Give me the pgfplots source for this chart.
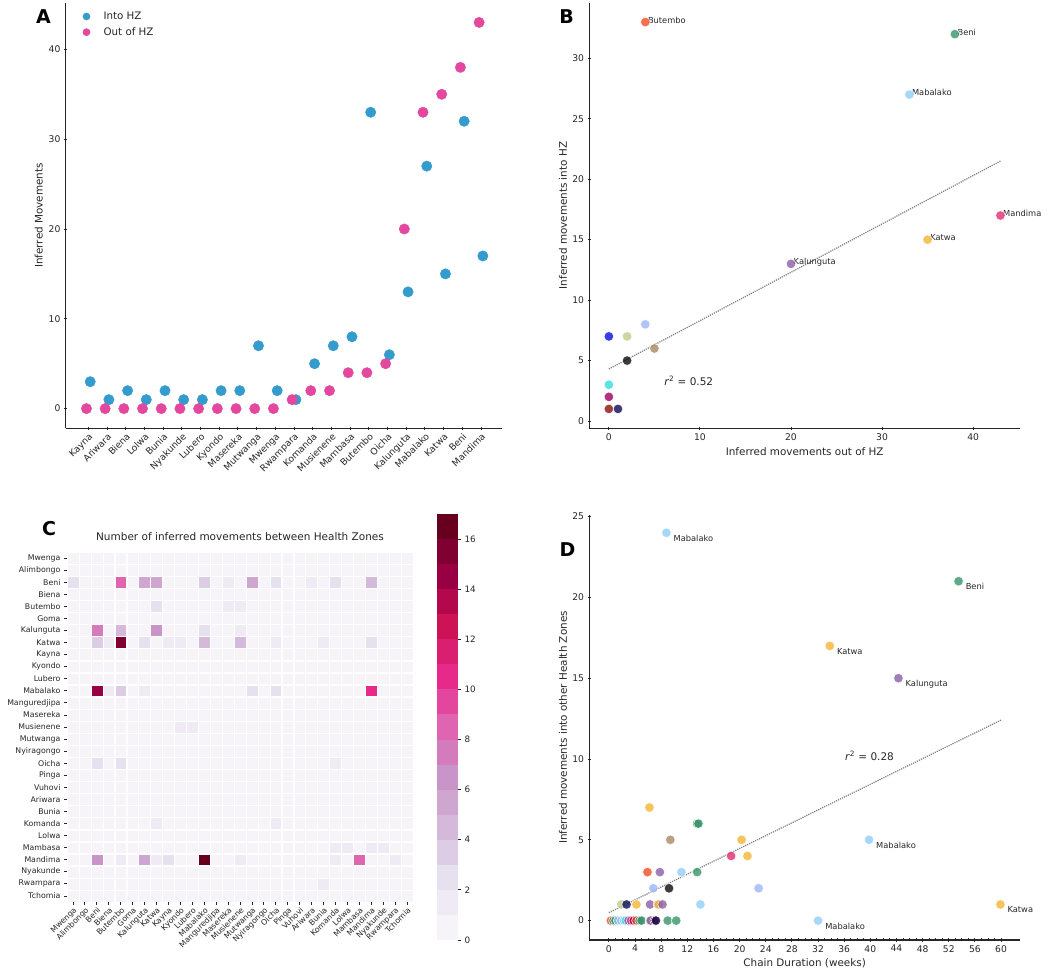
\documentclass[border=0pt]{standalone}
\usepackage{pgfplots}
\pgfplotsset{compat=1.18}
\usepackage{fontspec}
\setmainfont{DejaVu Sans}
\definecolor{axc}{RGB}{38,38,38}
\definecolor{cinto}{RGB}{52,155,205}
\definecolor{cout}{RGB}{228,72,158}
% PuRd, 17 levels
\definecolor{c0}{HTML}{F7F4F9}
\definecolor{c1}{HTML}{EFEAF4}
\definecolor{c2}{HTML}{E7E1EF}
\definecolor{c3}{HTML}{DDCDE4}
\definecolor{c4}{HTML}{D4B9DA}
\definecolor{c5}{HTML}{CEA6D0}
\definecolor{c6}{HTML}{C994C7}
\definecolor{c7}{HTML}{D47CBB}
\definecolor{c8}{HTML}{DF65B0}
\definecolor{c9}{HTML}{E3479D}
\definecolor{c10}{HTML}{E7298A}
\definecolor{c11}{HTML}{DA1E70}
\definecolor{c12}{HTML}{CE1256}
\definecolor{c13}{HTML}{B3094C}
\definecolor{c14}{HTML}{980043}
\definecolor{c15}{HTML}{800031}
\definecolor{c16}{HTML}{67001F}
% health zone colours
\definecolor{hbut}{RGB}{241,76,35}
\definecolor{hbeni}{RGB}{55,146,106}
\definecolor{hmab}{RGB}{146,206,246}
\definecolor{hmand}{RGB}{226,43,115}
\definecolor{hkat}{RGB}{245,180,51}
\definecolor{hkal}{RGB}{136,95,166}
\definecolor{hmut}{RGB}{11,11,224}
\definecolor{hmus}{RGB}{186,206,136}
\definecolor{hmamb}{RGB}{156,181,249}
\definecolor{hoic}{RGB}{166,136,96}
\definecolor{hkom}{RGB}{11,11,11}
\definecolor{hkay}{RGB}{56,216,226}
\definecolor{hmag}{RGB}{156,0,96}
\definecolor{hbrn}{RGB}{136,16,9}
\definecolor{hnav}{RGB}{14,9,86}
\tikzset{hzp/.style={draw=white, line width=0.6pt, fill=#1, fill opacity=0.8, draw opacity=0.9}}
\begin{document}
\begin{tikzpicture}
\pgfplotsset{
  every axis/.append style={
    scale only axis, anchor=south west,
    /pgf/number format/assume math mode=true,
    tick label style={font=\fontsize{9.2}{11}\selectfont, text=axc},
    label style={font=\fontsize{10.4}{12.5}\selectfont, text=axc},
    tick style={axc, line width=0.9pt},
    tick align=outside,
    major tick length=3.5pt,
    minor tick length=3pt,
  },
  hz/.style={scatter, only marks, mark=*, mark size=4.8pt, point meta=explicit symbolic,
    scatter/classes={
      but={hzp=hbut}, beni={hzp=hbeni}, mab={hzp=hmab}, mand={hzp=hmand},
      kat={hzp=hkat}, kal={hzp=hkal}, mut={hzp=hmut}, mus={hzp=hmus},
      mamb={hzp=hmamb}, oic={hzp=hoic}, kom={hzp=hkom}, kay={hzp=hkay},
      mag={hzp=hmag}, brn={hzp=hbrn}, nav={hzp=hnav}}},
  legdot/.style={legend image code/.code={\draw[mark size=3.6pt, ##1] plot coordinates {(0.25cm,0cm)}; \path[draw=none, fill=none] (0cm,0cm) (0.78cm,0cm);}},
}
% ---------------- Panel A ----------------
\begin{axis}[at={(65.7pt,540.7pt)}, width=436.6pt, height=425.6pt,
  axis lines=left, axis line style={-, axc, line width=1.1pt},
  xmin=-1.21, xmax=22.14, ymin=-2.19, ymax=45.2,
  xtick={0,...,21},
  xticklabels={Kayna,Ariwara,Biena,Lolwa,Bunia,Nyakunde,Lubero,Kyondo,Masereka,Mutwanga,Mwenga,Rwampara,Komanda,Musienene,Mambasa,Butembo,Oicha,Kalunguta,Mabalako,Katwa,Beni,Mandima},
  xticklabel style={rotate=45, anchor=north east, inner sep=1.5pt},
  ytick={0,10,20,30,40},
  ylabel={Inferred Movements},
  ylabel style={at={(axis description cs:-0.062,0.5)}, anchor=center},
  legend style={at={(axis description cs:0.024,0.988)}, anchor=north west, draw=none, fill=none,
     font=\fontsize{10.3}{12}\selectfont, text=axc, row sep=2.5pt},
  legend cell align=left,
]
\addplot[only marks, mark=*, mark size=5.2pt, mark options={fill=cinto, draw=cinto}, legdot] coordinates {
(0.1,3) (1.1,1) (2.1,2) (3.1,1) (4.1,2) (5.1,1) (6.1,1) (7.1,2) (8.1,2) (9.1,7) (10.1,2)
(11.1,1) (12.1,5) (13.1,7) (14.1,8) (15.1,33) (16.1,6) (17.1,13) (18.1,27) (19.1,15) (20.1,32) (21.1,17)};
\addlegendentry{Into HZ}
\addplot[only marks, mark=*, mark size=5.2pt, mark options={fill=cout, draw=cout}, legdot] coordinates {
(-0.1,0) (0.9,0) (1.9,0) (2.9,0) (3.9,0) (4.9,0) (5.9,0) (6.9,0) (7.9,0) (8.9,0) (9.9,0)
(10.9,1) (11.9,2) (12.9,2) (13.9,4) (14.9,4) (15.9,5) (16.9,20) (17.9,33) (18.9,35) (19.9,38) (20.9,43)};
\addlegendentry{Out of HZ}
\end{axis}
% ---------------- Panel B ----------------
\begin{axis}[at={(589.3pt,540.7pt)}, width=430.7pt, height=425.6pt, clip=false,
  axis lines=left, axis line style={-, axc, line width=1.1pt},
  xmin=-2.15, xmax=45.15, ymin=-0.6, ymax=34.6,
  xtick={0,10,20,30,40}, ytick={0,5,10,15,20,25,30},
  xlabel={Inferred movements out of HZ},
  ylabel={Inferred movements into HZ},
  xlabel style={at={(axis description cs:0.5,-0.054)}, anchor=center},
  ylabel style={at={(axis description cs:-0.061,0.5)}, anchor=center},
]
\addplot[densely dotted, gray, line width=1.2pt] coordinates {(0,4.3) (43,21.5)};
\addplot[hz] coordinates {
(0,7)[mut] (2,7)[mus] (4,8)[mamb] (5,6)[oic] (2,5)[kom] (0,3)[kay] (0,2)[mag] (0,1)[brn] (1,1)[nav]
(4,33)[but] (38,32)[beni] (33,27)[mab] (43,17)[mand] (35,15)[kat] (20,13)[kal]};
\begin{scope}[every node/.style={anchor=base west, xshift=2.5pt, yshift=-1pt, font=\fontsize{8.3}{10}\selectfont, text=axc, inner sep=0pt}]
\node at (axis cs:4,33) {Butembo};
\node at (axis cs:38,32) {Beni};
\node at (axis cs:33,27) {Mabalako};
\node at (axis cs:43,17) {Mandima};
\node at (axis cs:35,15) {Katwa};
\node at (axis cs:20,13) {Kalunguta};
\end{scope}
\node[anchor=west, inner sep=0pt, font=\fontsize{10.5}{12}\selectfont, text=axc] at (axis cs:6.06,3.33) {\textit{r}\textsuperscript{2} = 0.52};
\end{axis}
% ---------------- Panel C : heatmap ----------------
\begin{axis}[at={(67pt,67pt)}, width=346pt, height=350pt,
  xmin=-0.5, xmax=28.5, ymin=-0.5, ymax=28.5,
  axis line style={draw=none},
  tick pos=left,
  xtick={0,...,28}, ytick={0,...,28},
  xticklabels={Mwenga,Alimbongo,Beni,Biena,Butembo,Goma,Kalunguta,Katwa,Kayna,Kyondo,Lubero,Mabalako,Manguredjipa,Masereka,Musienene,Mutwanga,Nyiragongo,Oicha,Pinga,Vuhovi,Ariwara,Bunia,Komanda,Lolwa,Mambasa,Mandima,Nyakunde,Rwampara,Tchomia},
  yticklabels={Tchomia,Rwampara,Nyakunde,Mandima,Mambasa,Lolwa,Komanda,Bunia,Ariwara,Vuhovi,Pinga,Oicha,Nyiragongo,Mutwanga,Musienene,Masereka,Manguredjipa,Mabalako,Lubero,Kyondo,Kayna,Katwa,Kalunguta,Goma,Butembo,Biena,Beni,Alimbongo,Mwenga},
  tick label style={font=\fontsize{7.8}{9}\selectfont, text=axc},
  xticklabel style={rotate=45, anchor=north east, inner sep=1pt},
  major tick length=3pt,
  tick style={axc, line width=0.8pt},
  title={Number of inferred movements between Health Zones},
  title style={at={(axis description cs:0.5,1)}, anchor=center, yshift=9pt, font=\fontsize{10.5}{12}\selectfont, text=axc},
]
% zero cells (every row to every column)
\addplot[only marks, mark=square*, mark size=4.9pt, color=c0] coordinates {
(0,28)(1,28)(2,28)(3,28)(4,28)(5,28)(6,28)(7,28)(8,28)(9,28)(10,28)(11,28)(12,28)(13,28)(14,28)(15,28)(16,28)(17,28)(18,28)(19,28)(20,28)(21,28)(22,28)(23,28)(24,28)(25,28)(26,28)(27,28)(28,28)
(0,27)(1,27)(2,27)(3,27)(4,27)(5,27)(6,27)(7,27)(8,27)(9,27)(10,27)(11,27)(12,27)(13,27)(14,27)(15,27)(16,27)(17,27)(18,27)(19,27)(20,27)(21,27)(22,27)(23,27)(24,27)(25,27)(26,27)(27,27)(28,27)
(0,26)(1,26)(2,26)(3,26)(4,26)(5,26)(6,26)(7,26)(8,26)(9,26)(10,26)(11,26)(12,26)(13,26)(14,26)(15,26)(16,26)(17,26)(18,26)(19,26)(20,26)(21,26)(22,26)(23,26)(24,26)(25,26)(26,26)(27,26)(28,26)
(0,25)(1,25)(2,25)(3,25)(4,25)(5,25)(6,25)(7,25)(8,25)(9,25)(10,25)(11,25)(12,25)(13,25)(14,25)(15,25)(16,25)(17,25)(18,25)(19,25)(20,25)(21,25)(22,25)(23,25)(24,25)(25,25)(26,25)(27,25)(28,25)
(0,24)(1,24)(2,24)(3,24)(4,24)(5,24)(6,24)(7,24)(8,24)(9,24)(10,24)(11,24)(12,24)(13,24)(14,24)(15,24)(16,24)(17,24)(18,24)(19,24)(20,24)(21,24)(22,24)(23,24)(24,24)(25,24)(26,24)(27,24)(28,24)
(0,23)(1,23)(2,23)(3,23)(4,23)(5,23)(6,23)(7,23)(8,23)(9,23)(10,23)(11,23)(12,23)(13,23)(14,23)(15,23)(16,23)(17,23)(18,23)(19,23)(20,23)(21,23)(22,23)(23,23)(24,23)(25,23)(26,23)(27,23)(28,23)
(0,22)(1,22)(2,22)(3,22)(4,22)(5,22)(6,22)(7,22)(8,22)(9,22)(10,22)(11,22)(12,22)(13,22)(14,22)(15,22)(16,22)(17,22)(18,22)(19,22)(20,22)(21,22)(22,22)(23,22)(24,22)(25,22)(26,22)(27,22)(28,22)
(0,21)(1,21)(2,21)(3,21)(4,21)(5,21)(6,21)(7,21)(8,21)(9,21)(10,21)(11,21)(12,21)(13,21)(14,21)(15,21)(16,21)(17,21)(18,21)(19,21)(20,21)(21,21)(22,21)(23,21)(24,21)(25,21)(26,21)(27,21)(28,21)
(0,20)(1,20)(2,20)(3,20)(4,20)(5,20)(6,20)(7,20)(8,20)(9,20)(10,20)(11,20)(12,20)(13,20)(14,20)(15,20)(16,20)(17,20)(18,20)(19,20)(20,20)(21,20)(22,20)(23,20)(24,20)(25,20)(26,20)(27,20)(28,20)
(0,19)(1,19)(2,19)(3,19)(4,19)(5,19)(6,19)(7,19)(8,19)(9,19)(10,19)(11,19)(12,19)(13,19)(14,19)(15,19)(16,19)(17,19)(18,19)(19,19)(20,19)(21,19)(22,19)(23,19)(24,19)(25,19)(26,19)(27,19)(28,19)
(0,18)(1,18)(2,18)(3,18)(4,18)(5,18)(6,18)(7,18)(8,18)(9,18)(10,18)(11,18)(12,18)(13,18)(14,18)(15,18)(16,18)(17,18)(18,18)(19,18)(20,18)(21,18)(22,18)(23,18)(24,18)(25,18)(26,18)(27,18)(28,18)
(0,17)(1,17)(2,17)(3,17)(4,17)(5,17)(6,17)(7,17)(8,17)(9,17)(10,17)(11,17)(12,17)(13,17)(14,17)(15,17)(16,17)(17,17)(18,17)(19,17)(20,17)(21,17)(22,17)(23,17)(24,17)(25,17)(26,17)(27,17)(28,17)
(0,16)(1,16)(2,16)(3,16)(4,16)(5,16)(6,16)(7,16)(8,16)(9,16)(10,16)(11,16)(12,16)(13,16)(14,16)(15,16)(16,16)(17,16)(18,16)(19,16)(20,16)(21,16)(22,16)(23,16)(24,16)(25,16)(26,16)(27,16)(28,16)
(0,15)(1,15)(2,15)(3,15)(4,15)(5,15)(6,15)(7,15)(8,15)(9,15)(10,15)(11,15)(12,15)(13,15)(14,15)(15,15)(16,15)(17,15)(18,15)(19,15)(20,15)(21,15)(22,15)(23,15)(24,15)(25,15)(26,15)(27,15)(28,15)
(0,14)(1,14)(2,14)(3,14)(4,14)(5,14)(6,14)(7,14)(8,14)(9,14)(10,14)(11,14)(12,14)(13,14)(14,14)(15,14)(16,14)(17,14)(18,14)(19,14)(20,14)(21,14)(22,14)(23,14)(24,14)(25,14)(26,14)(27,14)(28,14)
(0,13)(1,13)(2,13)(3,13)(4,13)(5,13)(6,13)(7,13)(8,13)(9,13)(10,13)(11,13)(12,13)(13,13)(14,13)(15,13)(16,13)(17,13)(18,13)(19,13)(20,13)(21,13)(22,13)(23,13)(24,13)(25,13)(26,13)(27,13)(28,13)
(0,12)(1,12)(2,12)(3,12)(4,12)(5,12)(6,12)(7,12)(8,12)(9,12)(10,12)(11,12)(12,12)(13,12)(14,12)(15,12)(16,12)(17,12)(18,12)(19,12)(20,12)(21,12)(22,12)(23,12)(24,12)(25,12)(26,12)(27,12)(28,12)
(0,11)(1,11)(2,11)(3,11)(4,11)(5,11)(6,11)(7,11)(8,11)(9,11)(10,11)(11,11)(12,11)(13,11)(14,11)(15,11)(16,11)(17,11)(18,11)(19,11)(20,11)(21,11)(22,11)(23,11)(24,11)(25,11)(26,11)(27,11)(28,11)
(0,10)(1,10)(2,10)(3,10)(4,10)(5,10)(6,10)(7,10)(8,10)(9,10)(10,10)(11,10)(12,10)(13,10)(14,10)(15,10)(16,10)(17,10)(18,10)(19,10)(20,10)(21,10)(22,10)(23,10)(24,10)(25,10)(26,10)(27,10)(28,10)
(0,9)(1,9)(2,9)(3,9)(4,9)(5,9)(6,9)(7,9)(8,9)(9,9)(10,9)(11,9)(12,9)(13,9)(14,9)(15,9)(16,9)(17,9)(18,9)(19,9)(20,9)(21,9)(22,9)(23,9)(24,9)(25,9)(26,9)(27,9)(28,9)
(0,8)(1,8)(2,8)(3,8)(4,8)(5,8)(6,8)(7,8)(8,8)(9,8)(10,8)(11,8)(12,8)(13,8)(14,8)(15,8)(16,8)(17,8)(18,8)(19,8)(20,8)(21,8)(22,8)(23,8)(24,8)(25,8)(26,8)(27,8)(28,8)
(0,7)(1,7)(2,7)(3,7)(4,7)(5,7)(6,7)(7,7)(8,7)(9,7)(10,7)(11,7)(12,7)(13,7)(14,7)(15,7)(16,7)(17,7)(18,7)(19,7)(20,7)(21,7)(22,7)(23,7)(24,7)(25,7)(26,7)(27,7)(28,7)
(0,6)(1,6)(2,6)(3,6)(4,6)(5,6)(6,6)(7,6)(8,6)(9,6)(10,6)(11,6)(12,6)(13,6)(14,6)(15,6)(16,6)(17,6)(18,6)(19,6)(20,6)(21,6)(22,6)(23,6)(24,6)(25,6)(26,6)(27,6)(28,6)
(0,5)(1,5)(2,5)(3,5)(4,5)(5,5)(6,5)(7,5)(8,5)(9,5)(10,5)(11,5)(12,5)(13,5)(14,5)(15,5)(16,5)(17,5)(18,5)(19,5)(20,5)(21,5)(22,5)(23,5)(24,5)(25,5)(26,5)(27,5)(28,5)
(0,4)(1,4)(2,4)(3,4)(4,4)(5,4)(6,4)(7,4)(8,4)(9,4)(10,4)(11,4)(12,4)(13,4)(14,4)(15,4)(16,4)(17,4)(18,4)(19,4)(20,4)(21,4)(22,4)(23,4)(24,4)(25,4)(26,4)(27,4)(28,4)
(0,3)(1,3)(2,3)(3,3)(4,3)(5,3)(6,3)(7,3)(8,3)(9,3)(10,3)(11,3)(12,3)(13,3)(14,3)(15,3)(16,3)(17,3)(18,3)(19,3)(20,3)(21,3)(22,3)(23,3)(24,3)(25,3)(26,3)(27,3)(28,3)
(0,2)(1,2)(2,2)(3,2)(4,2)(5,2)(6,2)(7,2)(8,2)(9,2)(10,2)(11,2)(12,2)(13,2)(14,2)(15,2)(16,2)(17,2)(18,2)(19,2)(20,2)(21,2)(22,2)(23,2)(24,2)(25,2)(26,2)(27,2)(28,2)
(0,1)(1,1)(2,1)(3,1)(4,1)(5,1)(6,1)(7,1)(8,1)(9,1)(10,1)(11,1)(12,1)(13,1)(14,1)(15,1)(16,1)(17,1)(18,1)(19,1)(20,1)(21,1)(22,1)(23,1)(24,1)(25,1)(26,1)(27,1)(28,1)
(0,0)(1,0)(2,0)(3,0)(4,0)(5,0)(6,0)(7,0)(8,0)(9,0)(10,0)(11,0)(12,0)(13,0)(14,0)(15,0)(16,0)(17,0)(18,0)(19,0)(20,0)(21,0)(22,0)(23,0)(24,0)(25,0)(26,0)(27,0)(28,0)
};
% non-zero cells (x = destination column, y = 28 - source row)
\addplot[scatter, only marks, mark=square*, mark size=4.9pt, point meta=explicit symbolic,
  scatter/classes={v1={c1},v2={c2},v3={c3},v4={c4},v5={c5},v6={c6},v7={c7},v8={c8},v9={c9},
    v10={c10},v11={c11},v12={c12},v13={c13},v14={c14},v15={c15},v16={c16},v17={c16}}] coordinates {
(0,26)[v2] (4,26)[v8] (6,26)[v5] (7,26)[v5] (11,26)[v3] (13,26)[v1] (15,26)[v5] (17,26)[v2] (20,26)[v1] (22,26)[v2] (25,26)[v4]
(7,24)[v2] (13,24)[v1] (14,24)[v1]
(2,22)[v7] (4,22)[v4] (7,22)[v6] (11,22)[v2] (14,22)[v1]
(2,21)[v3] (3,21)[v1] (4,21)[v15] (6,21)[v2] (8,21)[v1] (9,21)[v1] (11,21)[v4] (14,21)[v4] (17,21)[v1] (21,21)[v1] (25,21)[v2]
(2,17)[v14] (3,17)[v1] (4,17)[v3] (6,17)[v1] (15,17)[v2] (17,17)[v2] (25,17)[v10]
(9,14)[v1] (10,14)[v1]
(2,11)[v2] (4,11)[v2] (22,11)[v1]
(7,6)[v1] (17,6)[v1]
(22,4)[v1] (23,4)[v1] (25,4)[v1] (26,4)[v1]
(2,3)[v6] (4,3)[v1] (6,3)[v5] (7,3)[v1] (8,3)[v2] (11,3)[v17] (14,3)[v1] (22,3)[v1] (24,3)[v8] (27,3)[v1]
(21,1)[v1]
};
\end{axis}
% ---------------- colour bar ----------------
\begin{axis}[at={(437pt,29pt)}, width=21pt, height=426pt,
  xmin=0, xmax=1, ymin=0, ymax=17,
  axis line style={draw=none},
  xtick=\empty,
  ytick={0,2,4,6,8,10,12,14,16},
  ytick pos=right, yticklabel pos=right,
  tick label style={font=\fontsize{8.8}{10}\selectfont, text=axc},
  major tick length=3pt,
]
\addplot[fill=c0, draw=none] coordinates {(0,0) (1,0) (1,1) (0,1)};
\addplot[fill=c1, draw=none] coordinates {(0,1) (1,1) (1,2) (0,2)};
\addplot[fill=c2, draw=none] coordinates {(0,2) (1,2) (1,3) (0,3)};
\addplot[fill=c3, draw=none] coordinates {(0,3) (1,3) (1,4) (0,4)};
\addplot[fill=c4, draw=none] coordinates {(0,4) (1,4) (1,5) (0,5)};
\addplot[fill=c5, draw=none] coordinates {(0,5) (1,5) (1,6) (0,6)};
\addplot[fill=c6, draw=none] coordinates {(0,6) (1,6) (1,7) (0,7)};
\addplot[fill=c7, draw=none] coordinates {(0,7) (1,7) (1,8) (0,8)};
\addplot[fill=c8, draw=none] coordinates {(0,8) (1,8) (1,9) (0,9)};
\addplot[fill=c9, draw=none] coordinates {(0,9) (1,9) (1,10) (0,10)};
\addplot[fill=c10, draw=none] coordinates {(0,10) (1,10) (1,11) (0,11)};
\addplot[fill=c11, draw=none] coordinates {(0,11) (1,11) (1,12) (0,12)};
\addplot[fill=c12, draw=none] coordinates {(0,12) (1,12) (1,13) (0,13)};
\addplot[fill=c13, draw=none] coordinates {(0,13) (1,13) (1,14) (0,14)};
\addplot[fill=c14, draw=none] coordinates {(0,14) (1,14) (1,15) (0,15)};
\addplot[fill=c15, draw=none] coordinates {(0,15) (1,15) (1,16) (0,16)};
\addplot[fill=c16, draw=none] coordinates {(0,16) (1,16) (1,17) (0,17)};
\node[rotate=-90, font=\fontsize{14.4}{16}\selectfont, text=axc] at (axis description cs:2.38,0.5) {n(inferred movements)};
\end{axis}
% ---------------- Panel D ----------------
\begin{axis}[at={(589.3pt,29pt)}, width=430.7pt, height=425pt, clip=false,
  axis lines=left, axis line style={-, axc, line width=1.1pt},
  xmin=-3, xmax=62.9, ymin=-1.2, ymax=25.1,
  xtick={0,4,...,60}, minor x tick num=3,
  ytick={0,5,10,15,20,25},
  xlabel={Chain Duration (weeks)},
  ylabel={Inferred movements into other Health Zones},
  xlabel style={at={(axis description cs:0.5,-0.054)}, anchor=center},
  ylabel style={at={(axis description cs:-0.061,0.5)}, anchor=center},
]
\addplot[densely dotted, gray, line width=1.2pt] coordinates {(0,0.49) (60,12.41)};
\addplot[hz] coordinates {
(0.3,0)[but] (0.7,0)[beni] (1.0,0)[beni] (1.4,0)[mab] (1.9,0)[mamb] (2.3,0)[mab] (2.6,0)[kay]
(3.0,0)[kal] (3.4,0)[mand] (3.8,0)[mag] (4.2,0)[but] (4.7,0)[beni] (5.0,0)[beni]
(6.3,0)[oic] (6.4,0)[kal] (7.0,0)[brn] (7.2,0)[nav] (9.0,0)[beni] (10.3,0)[beni]
(1.9,1)[mus] (2.7,1)[nav] (4.2,1)[kat] (6.3,1)[kal] (7.5,1)[oic] (7.6,1)[kat] (8.2,1)[kal] (14.0,1)[mab]
(6.8,2)[mamb] (9.2,2)[kom] (22.9,2)[mamb]
(5.9,3)[but] (7.8,3)[kal] (11.1,3)[mab] (13.5,3)[beni]
(18.7,4)[mand] (21.2,4)[kat]
(9.4,5)[oic] (20.3,5)[kat]
(13.5,6)[beni] (13.7,6)[beni]
(6.2,7)[kat]
(8.8,24)[mab] (53.5,21)[beni] (33.8,17)[kat] (44.3,15)[kal] (39.8,5)[mab] (59.9,1)[kat] (32.0,0)[mab]};
\begin{scope}[every node/.style={anchor=base west, xshift=7pt, yshift=-8.5pt, font=\fontsize{8.3}{10}\selectfont, text=axc, inner sep=0pt}]
\node at (axis cs:8.8,24) {Mabalako};
\node at (axis cs:53.5,21) {Beni};
\node at (axis cs:33.8,17) {Katwa};
\node at (axis cs:44.3,15) {Kalunguta};
\node at (axis cs:39.8,5) {Mabalako};
\node at (axis cs:59.9,1) {Katwa};
\node at (axis cs:32.0,0) {Mabalako};
\end{scope}
\node[anchor=west, inner sep=0pt, font=\fontsize{10.5}{12}\selectfont, text=axc] at (axis cs:36.1,10.2) {\textit{r}\textsuperscript{2} = 0.28};
\end{axis}
% ---------------- panel letters ----------------
\begin{scope}[every node/.style={font=\bfseries\fontsize{19}{20}\selectfont, inner sep=0pt}]
\node at (43.5pt,952pt) {A};
\node at (566.5pt,952pt) {B};
\node at (49pt,440pt) {C};
\node at (567.5pt,419.5pt) {D};
\end{scope}
\pgfresetboundingbox
\useasboundingbox (0pt,0pt) rectangle (1050pt,969pt);
\end{tikzpicture}
\end{document}
